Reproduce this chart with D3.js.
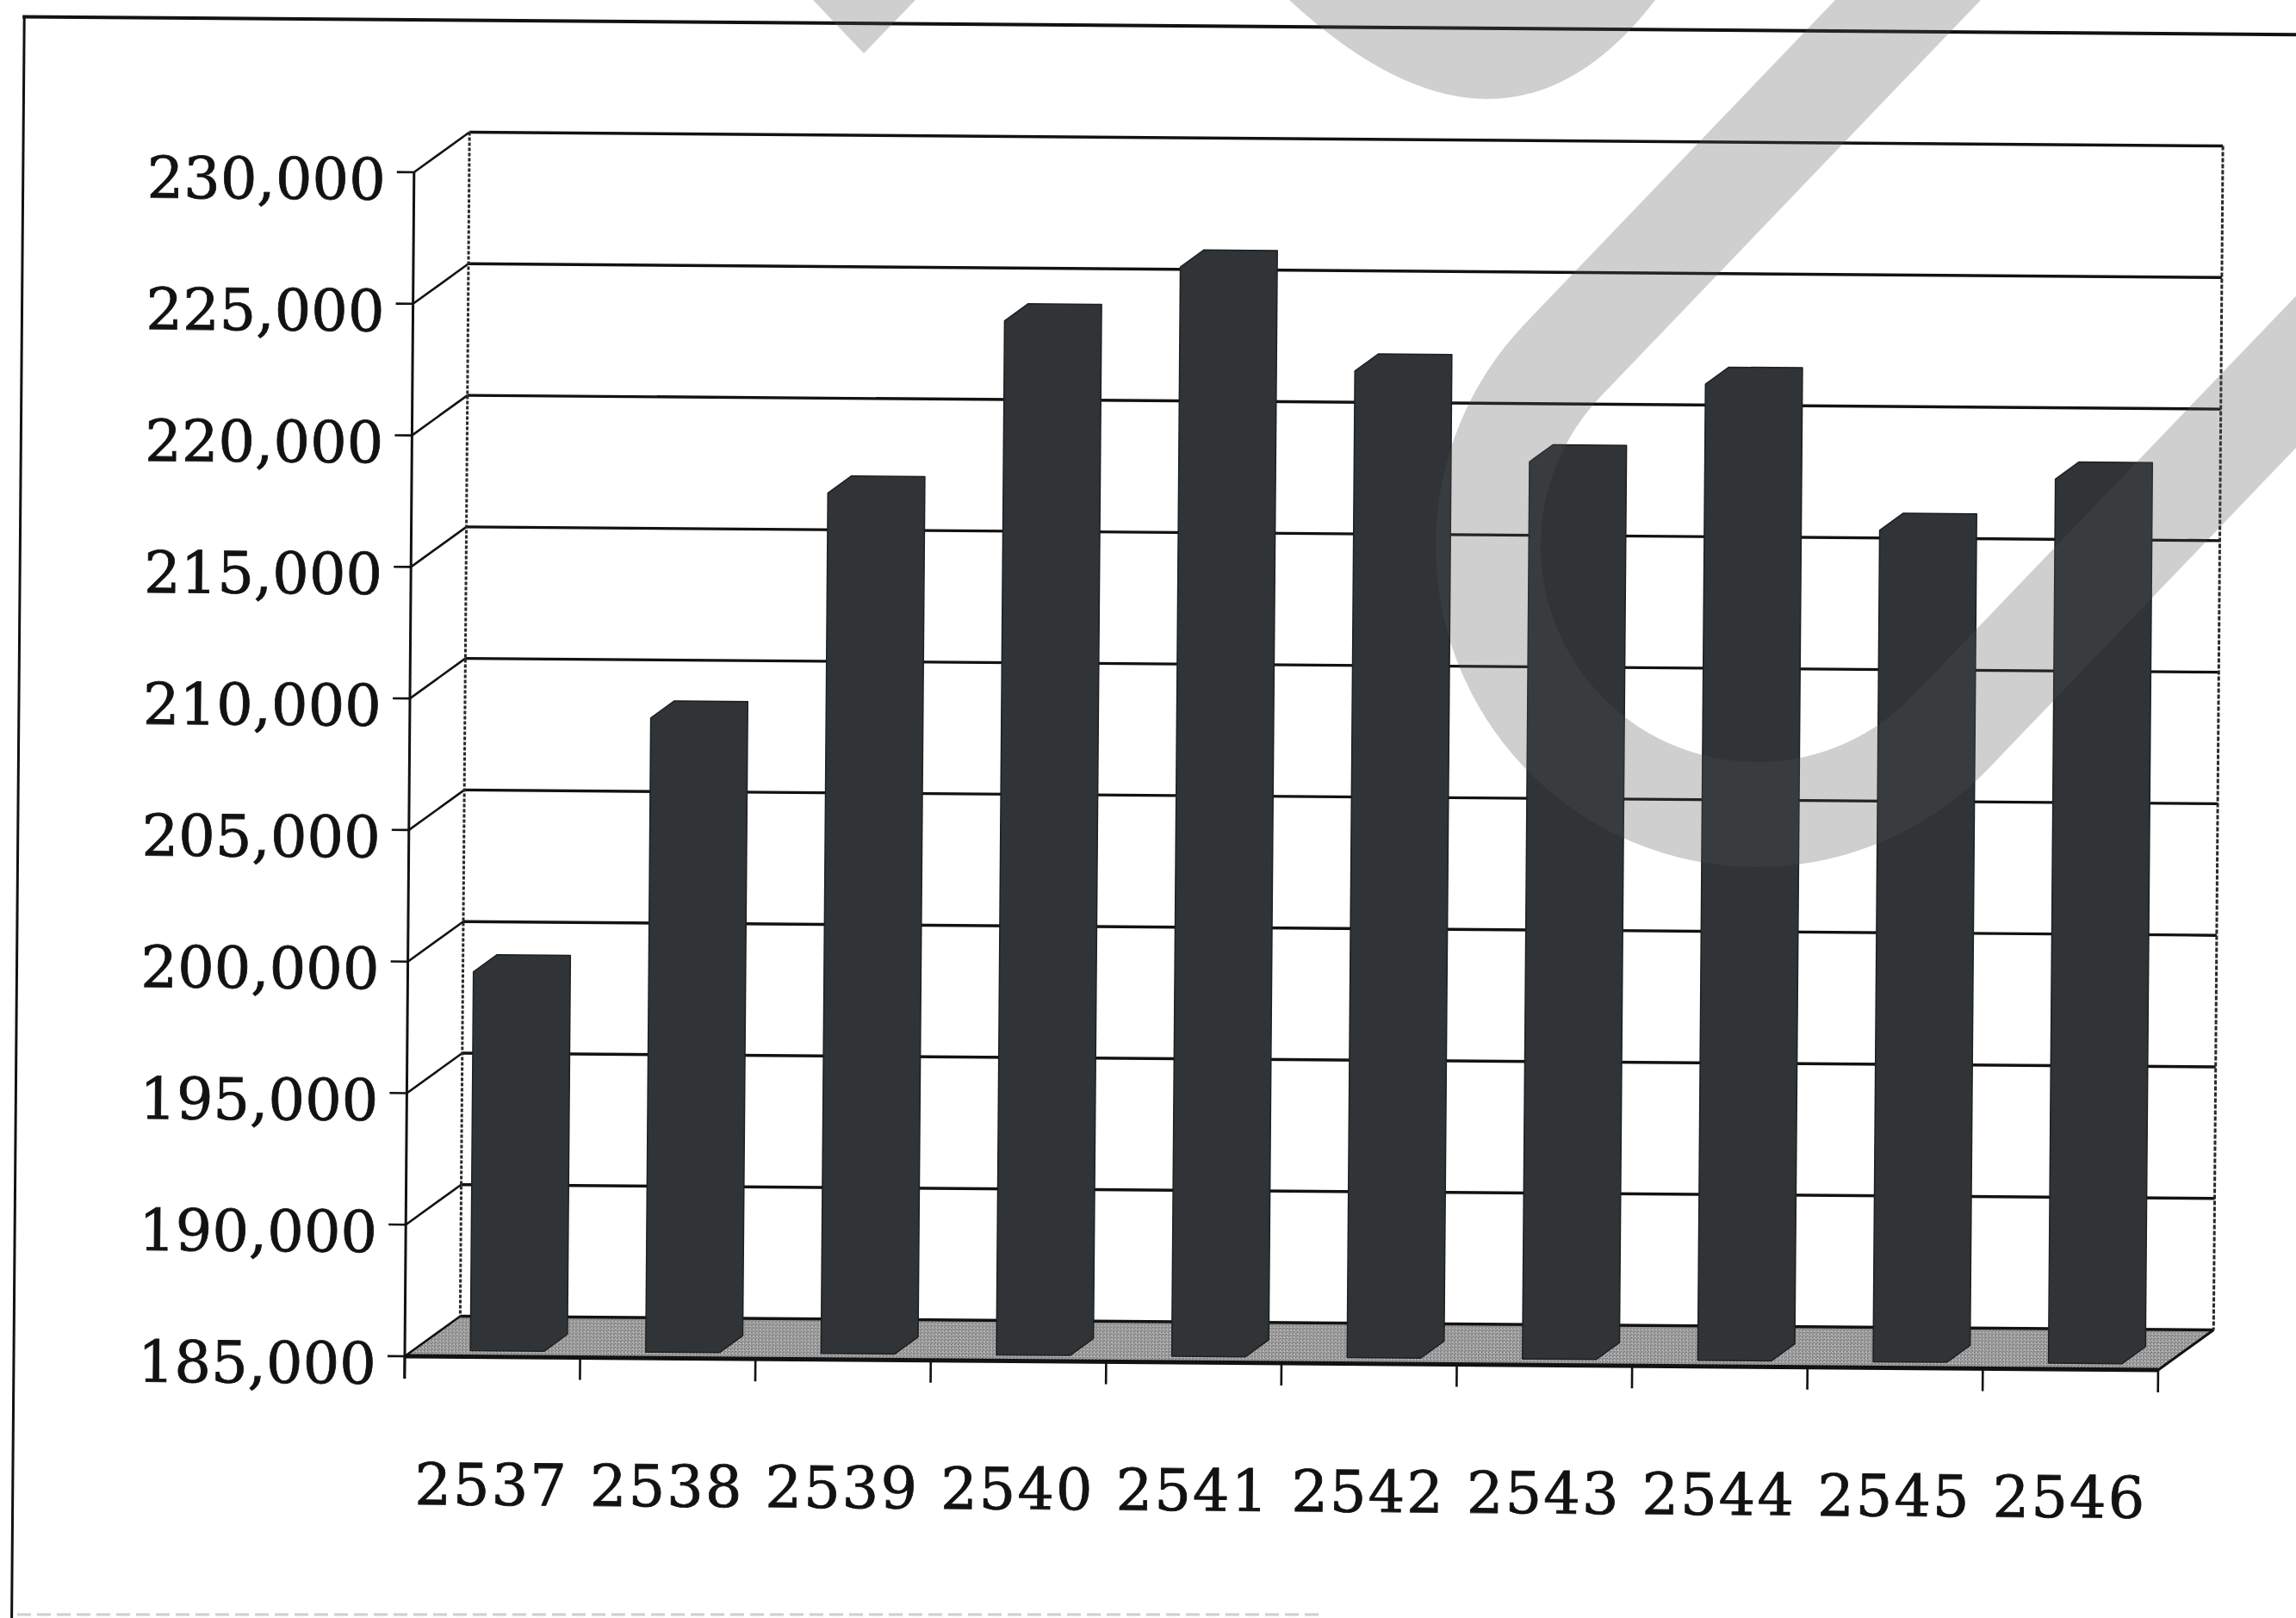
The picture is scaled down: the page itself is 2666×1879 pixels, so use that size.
<!DOCTYPE html>
<html>
<head>
<meta charset="utf-8">
<script src="https://cdnjs.cloudflare.com/ajax/libs/d3/7.8.5/d3.min.js"></script>
<style>
  html, body { margin: 0; padding: 0; background: #ffffff; }
  svg { display: block; }
</style>
</head>
<body>
<script>
// Yearly totals (Buddhist Era years)
const years = ["2537", "2538", "2539", "2540", "2541", "2542", "2543", "2544", "2545", "2546"];
const totals = [199400, 209100, 217700, 224300, 226400, 222500, 219100, 222100, 216600, 218600];
const yTicks = [185000, 190000, 195000, 200000, 205000, 210000, 215000, 220000, 225000, 230000];

const W = 2666, H = 1879;
const INK = "#121212";
const FONT = "'DejaVu Serif', 'Liberation Serif', serif";

const svg = d3.select("body").append("svg")
  .attr("width", W).attr("height", H)
  .attr("viewBox", `0 0 ${W} ${H}`);

svg.append("rect").attr("width", W).attr("height", H).attr("fill", "#ffffff");

// speckled grey texture for the chart floor
const defs = svg.append("defs");
const pat = defs.append("pattern")
  .attr("id", "floorTex")
  .attr("width", 4).attr("height", 4)
  .attr("patternUnits", "userSpaceOnUse");
pat.append("rect").attr("width", 4).attr("height", 4).attr("fill", "#a2a2a2");
[[0, 0, "#5c5c5c"], [2, 2, "#626262"], [1, 3, "#7e7e7e"], [3, 1, "#d2d2d2"], [2, 0, "#c2c2c2"], [0, 2, "#858585"]]
  .forEach(([px, py, c]) => pat.append("rect")
    .attr("x", px).attr("y", py).attr("width", 1).attr("height", 1).attr("fill", c));

// whole page sits at a slight clockwise tilt
const g = svg.append("g").attr("transform", "rotate(0.45,470,1575)");

// scales for the front plane of the 3-D box
const y = d3.scaleLinear().domain([185000, 230000]).range([1575, 200]);
const x = d3.scaleBand().domain(years).range([470, 2506]).padding(0);
const X0 = x.range()[0], X1 = x.range()[1];
const yBase = y(185000), yTop = y(230000);

// depth offset of the back wall, and of the bars
const DX = 64, DY = -47;
const FRONT = { dx: 10, dy: -7 };   // bars' front face sits a little behind the front plane
const BAR_D = { dx: 27, dy: -20 };  // bar depth

// outer frame
g.append("line").attr("x1", 14).attr("y1", 23).attr("x2", 2720).attr("y2", 23)
  .attr("stroke", INK).attr("stroke-width", 4);
g.append("line").attr("x1", 16).attr("y1", 23).attr("x2", 16).attr("y2", 1910)
  .attr("stroke", INK).attr("stroke-width", 3);

// faint dashed rule along the bottom edge
svg.append("line").attr("x1", 20).attr("y1", 1875).attr("x2", 1536).attr("y2", 1875)
  .attr("stroke", "#cfcfcf").attr("stroke-width", 3).attr("stroke-dasharray", "16,7");

// floor
g.append("polygon")
  .attr("points", [[X0, yBase], [X1, yBase], [X1 + DX, yBase + DY], [X0 + DX, yBase + DY]].join(" "))
  .attr("fill", "url(#floorTex)");

// back-wall gridlines
g.append("g").selectAll("line").data(yTicks).join("line")
  .attr("x1", X0 + DX).attr("x2", X1 + DX)
  .attr("y1", d => y(d) + DY).attr("y2", d => y(d) + DY)
  .attr("stroke", INK).attr("stroke-width", 3.4);

// side-wall gridlines
g.append("g").selectAll("line").data(yTicks).join("line")
  .attr("x1", X0).attr("y1", d => y(d))
  .attr("x2", X0 + DX).attr("y2", d => y(d) + DY)
  .attr("stroke", INK).attr("stroke-width", 2.6);

// value-axis tick marks
g.append("g").selectAll("line").data(yTicks).join("line")
  .attr("x1", X0 - 20).attr("x2", X0)
  .attr("y1", d => y(d)).attr("y2", d => y(d))
  .attr("stroke", INK).attr("stroke-width", 2.6);

// back-wall vertical edges
g.append("line").attr("x1", X0 + DX).attr("x2", X0 + DX)
  .attr("y1", yTop + DY).attr("y2", yBase + DY)
  .attr("stroke", "#2a2a2a").attr("stroke-width", 3).attr("stroke-dasharray", "4,2");
g.append("line").attr("x1", X1 + DX).attr("x2", X1 + DX)
  .attr("y1", yTop + DY).attr("y2", yBase + DY)
  .attr("stroke", "#2a2a2a").attr("stroke-width", 3).attr("stroke-dasharray", "5,2");

// front value axis
g.append("line").attr("x1", X0).attr("x2", X0)
  .attr("y1", yTop).attr("y2", yBase + 26)
  .attr("stroke", INK).attr("stroke-width", 3);

// floor right edge
g.append("line").attr("x1", X1).attr("y1", yBase)
  .attr("x2", X1 + DX).attr("y2", yBase + DY)
  .attr("stroke", INK).attr("stroke-width", 3);

// bars
const barOff = x.bandwidth() * 0.325;
const barW = x.bandwidth() * 0.42;
const data = years.map((yr, i) => ({ yr, v: totals[i] }));

g.append("g").selectAll("path").data(data).join("path")
  .attr("d", d => {
    const fx = x(d.yr) + barOff + FRONT.dx;
    const yb = yBase + FRONT.dy;
    const yt = y(d.v) + FRONT.dy;
    const p = d3.path();
    p.moveTo(fx, yb);
    p.lineTo(fx, yt);
    p.lineTo(fx + BAR_D.dx, yt + BAR_D.dy);
    p.lineTo(fx + barW + BAR_D.dx, yt + BAR_D.dy);
    p.lineTo(fx + barW + BAR_D.dx, yb + BAR_D.dy);
    p.lineTo(fx + barW, yb);
    p.closePath();
    return p.toString();
  })
  .attr("fill", "#303436")
  .attr("stroke", "#1d2022")
  .attr("stroke-width", 1.5)
  .attr("stroke-linejoin", "round");

// category axis line and ticks
g.append("line").attr("x1", X0).attr("x2", X1)
  .attr("y1", yBase).attr("y2", yBase)
  .attr("stroke", INK).attr("stroke-width", 5);
g.append("g").selectAll("line").data(years.map(d => x(d)).concat([X1])).join("line")
  .attr("x1", d => d).attr("x2", d => d)
  .attr("y1", yBase).attr("y2", yBase + 26)
  .attr("stroke", INK).attr("stroke-width", 2.6);

// value labels
g.append("g").selectAll("text").data(yTicks).join("text")
  .attr("x", X0 - 33)
  .attr("y", d => y(d) + 32)
  .attr("text-anchor", "end")
  .attr("font-family", FONT)
  .attr("font-size", 67)
  .attr("fill", INK)
  .attr("stroke", INK).attr("stroke-width", 0.8)
  .text(d => d3.format(",")(d));

// year labels
g.append("g").selectAll("text").data(years).join("text")
  .attr("x", d => x(d) + x.bandwidth() / 2)
  .attr("y", 1747)
  .attr("text-anchor", "middle")
  .attr("font-family", FONT)
  .attr("font-size", 67)
  .attr("letter-spacing", 2)
  .attr("fill", INK)
  .attr("stroke", INK).attr("stroke-width", 0.8)
  .text(d => d);

// translucent grey overlay bands across the upper right
const overlay = svg.append("g").attr("fill", "#545454").attr("fill-opacity", 0.28);
const C = [2040, 634], R = 312;
const u = [0.692, -0.722], n = [0.722, 0.692];
const Lp = [C[0] - n[0] * R, C[1] - n[1] * R];
const Rp = [C[0] + n[0] * R, C[1] + n[1] * R];
const armLen = 900;
svg.append("path")
  .attr("d", `M${Lp[0] + u[0] * armLen},${Lp[1] + u[1] * armLen} L${Lp[0]},${Lp[1]} ` +
             `A${R},${R} 0 0 0 ${Rp[0]},${Rp[1]} L${Rp[0] + u[0] * armLen},${Rp[1] + u[1] * armLen}`)
  .attr("fill", "none")
  .attr("stroke", "#545454")
  .attr("stroke-opacity", 0.28)
  .attr("stroke-width", 122);
overlay.append("path").attr("d", "M944,0 L1063,0 L1003,62 Z");
overlay.append("path").attr("d", "M1497,0 Q1745,230 1922,0 Z");
</script>
</body>
</html>
